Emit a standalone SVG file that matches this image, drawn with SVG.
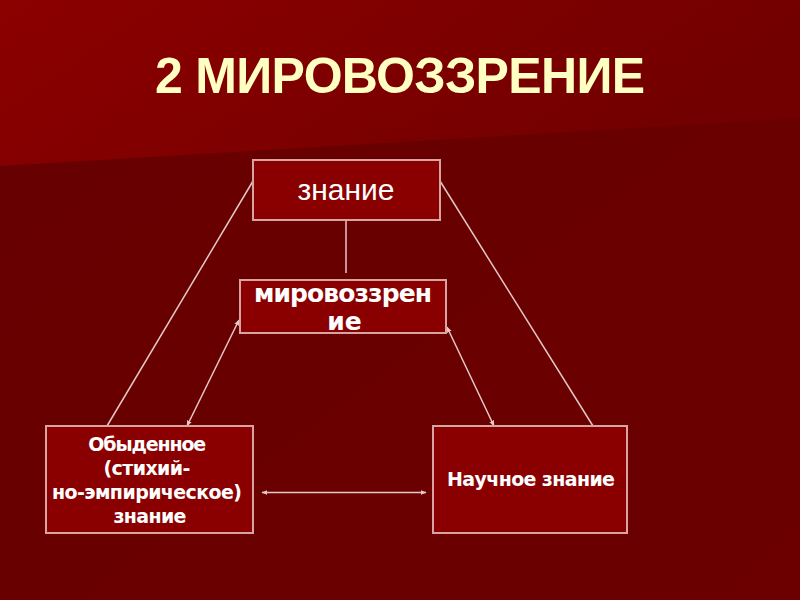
<svg xmlns="http://www.w3.org/2000/svg" width="800" height="600" viewBox="0 0 800 600">
<defs>
<linearGradient id="bgTop" x1="0" y1="0" x2="1" y2="0.3">
<stop offset="0" stop-color="#8c0000"/>
<stop offset="1" stop-color="#720000"/>
</linearGradient>
<linearGradient id="bgBot" x1="0" y1="0" x2="1" y2="1">
<stop offset="0" stop-color="#660000"/>
<stop offset="1" stop-color="#6c0000"/>
</linearGradient>
<marker id="ah" viewBox="0 0 10 10" refX="9" refY="5" markerWidth="6" markerHeight="6" orient="auto-start-reverse" markerUnits="userSpaceOnUse">
<path d="M0,1 L10,5 L0,9 z" fill="#e6c8c8"/>
</marker>
<style>
.box{fill:#8a0000;stroke:#d7a3a3;stroke-width:2}
.ln{stroke:#e6c8c8;stroke-width:1.5;fill:none}
.t{font-family:"Liberation Sans",Arial,sans-serif;fill:#ffffff;text-anchor:middle}
.b{font-family:"DejaVu Sans","Liberation Sans",sans-serif;font-weight:bold}
.h{font-family:"Liberation Sans",Arial,sans-serif;font-weight:bold;fill:#ffffc4;text-anchor:middle}
</style>
</defs>
<rect width="800" height="600" fill="url(#bgBot)"/>
<polygon points="0,0 800,0 800,118 0,166" fill="url(#bgTop)"/>
<text class="h" x="400" y="93" font-size="50" textLength="490">2 МИРОВОЗЗРЕНИЕ</text>
<g id="connectors">
<line class="ln" x1="346" y1="220" x2="346" y2="273"/>
<line class="ln" x1="253" y1="181" x2="107" y2="426"/>
<line class="ln" x1="440" y1="181" x2="593" y2="426"/>
<line class="ln" x1="239" y1="320" x2="187" y2="426" marker-start="url(#ah)" marker-end="url(#ah)"/>
<line class="ln" x1="447" y1="327" x2="494" y2="426" marker-start="url(#ah)" marker-end="url(#ah)"/>
<line class="ln" x1="262" y1="492.5" x2="426" y2="492.5" marker-start="url(#ah)" marker-end="url(#ah)"/>
</g>
<g id="znanie">
<rect class="box" x="253" y="160" width="187" height="60"/>
<text class="t" x="346" y="200" font-size="30">знание</text>
</g>
<g id="mirovozzrenie">
<rect class="box" x="240" y="280" width="206" height="53"/>
<text class="t b" x="343" y="302" font-size="25" textLength="178">мировоззрен</text>
<text class="t b" x="344.5" y="330" font-size="25">ие</text>
</g>
<g id="obydennoe">
<rect class="box" x="46" y="426" width="207" height="107"/>
<text class="t b" font-size="19">
<tspan x="150" y="451" textLength="118">Обыденное</tspan>
<tspan x="150" y="475" textLength="87">(стихий-</tspan>
<tspan x="150" y="499" textLength="190">но-эмпирическое)</tspan>
<tspan x="150" y="523" textLength="73">знание</tspan>
</text>
</g>
<g id="nauchnoe">
<rect class="box" x="433" y="426" width="194" height="107"/>
<text class="t b" x="531" y="486" font-size="19" textLength="168">Научное знание</text>
</g>
</svg>
